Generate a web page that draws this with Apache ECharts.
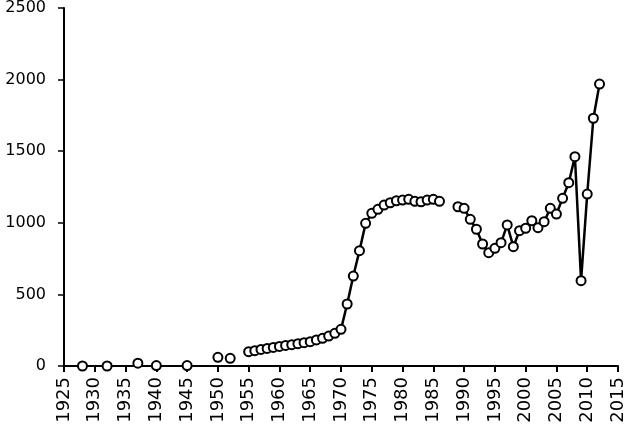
<!DOCTYPE html>
<html>
<head>
<meta charset="utf-8">
<script src="https://cdn.jsdelivr.net/npm/echarts@6/dist/echarts.min.js"></script>
<style>
html,body{margin:0;padding:0;background:#fff;}
#chart{width:633px;height:432px;}
</style>
</head>
<body>
<div id="chart"></div>
<script>
const years = [1928,1932,1937,1940,1945,1950,1952,
  1955,1956,1957,1958,1959,1960,1961,1962,1963,1964,1965,1966,1967,1968,1969,1970,
  1971,1972,1973,1974,1975,1976,1977,1978,1979,1980,1981,1982,1983,1984,1985,1986,
  1989,1990,1991,1992,1993,1994,1995,1996,1997,1998,1999,2000,2001,2002,2003,2004,
  2005,2006,2007,2008,2009,2010,2011,2012];
const values = [0,0,20,3,3,61,54,
  100,107,116,123,130,137,144,149,156,163,170,182,193,209,228,256,
  433,628,805,996,1066,1094,1124,1140,1154,1159,1164,1150,1147,1159,1164,1150,
  1112,1101,1024,955,852,791,822,861,985,833,945,962,1015,966,1008,1101,
  1061,1171,1280,1462,596,1201,1730,1969];
const yTicks = [0,500,1000,1500,2000,2500];
const xMin = 1925, xMax = 2015, xStep = 5;

// build data, breaking the line where years are not consecutive
const seriesData = [];
for (let i = 0; i < years.length; i++) {
  seriesData.push([years[i], values[i]]);
  if (i < years.length - 1 && years[i + 1] - years[i] > 1) {
    seriesData.push([years[i] + 1, null]);
  }
}

const font = 'DejaVu Sans';
const chart = echarts.init(document.getElementById('chart'), null, {renderer: 'canvas'});
chart.setOption({
  animation: false,
  backgroundColor: '#ffffff',
  grid: {left: 64, right: 15, top: 8, bottom: 66, containLabel: false},
  xAxis: {
    type: 'value',
    min: xMin, max: xMax, interval: xStep,
    axisLine: {show: true, onZero: false, lineStyle: {color: '#000', width: 2}},
    axisTick: {show: true, inside: false, length: 6, lineStyle: {color: '#000', width: 2}},
    splitLine: {show: false},
    axisLabel: {
      rotate: 90, margin: 11, color: '#000', fontFamily: font, fontSize: 18,
      formatter: v => String(v)
    }
  },
  yAxis: {
    type: 'value',
    min: yTicks[0], max: yTicks[yTicks.length - 1], interval: yTicks[1] - yTicks[0],
    axisLine: {show: true, lineStyle: {color: '#000', width: 2}},
    axisTick: {show: true, inside: false, length: 6, lineStyle: {color: '#000', width: 1.5}},
    splitLine: {show: false},
    axisLabel: {margin: 18, color: '#000', fontFamily: font, fontSize: 16,
      formatter: v => String(v)}
  },
  series: [{
    type: 'line',
    data: seriesData,
    connectNulls: false,
    showSymbol: true,
    showAllSymbol: true,
    symbol: 'circle',
    symbolSize: 9,
    itemStyle: {color: '#fff', borderColor: '#000', borderWidth: 2},
    lineStyle: {color: '#000', width: 2.5},
    z: 3
  }]
});
</script>
</body>
</html>
